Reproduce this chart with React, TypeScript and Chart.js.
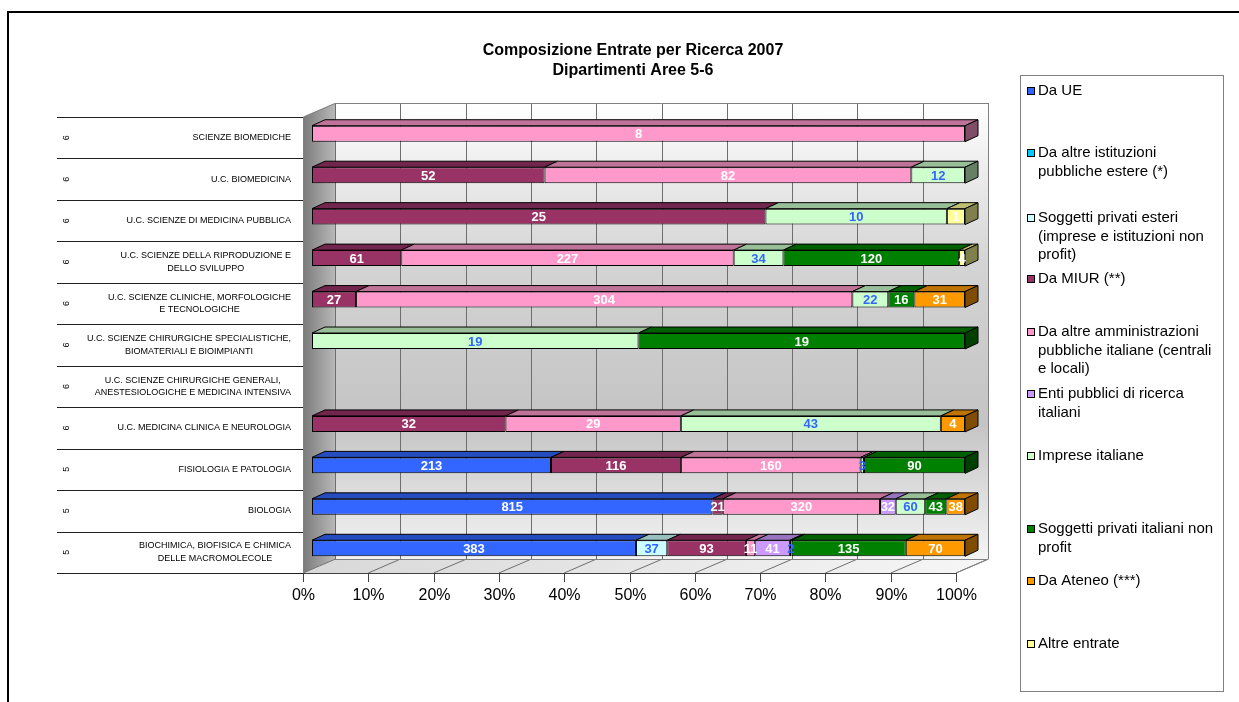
import React, { useEffect, useRef } from 'react';
import { Chart, registerables } from 'chart.js';

Chart.register(...registerables);

// ---------- DATA ----------
const titleLines = ['Composizione Entrate per Ricerca 2007', 'Dipartimenti Aree 5-6'];

const categories: string[][] = [
  ['SCIENZE BIOMEDICHE'],
  ['U.C. BIOMEDICINA'],
  ['U.C. SCIENZE DI MEDICINA PUBBLICA'],
  ['U.C. SCIENZE DELLA RIPRODUZIONE E', 'DELLO SVILUPPO'],
  ['U.C. SCIENZE CLINICHE, MORFOLOGICHE', 'E TECNOLOGICHE'],
  ['U.C. SCIENZE CHIRURGICHE SPECIALISTICHE,', 'BIOMATERIALI E BIOIMPIANTI'],
  ['U.C. SCIENZE CHIRURGICHE GENERALI,', 'ANESTESIOLOGICHE E MEDICINA INTENSIVA'],
  ['U.C. MEDICINA CLINICA E NEUROLOGIA'],
  ['FISIOLOGIA E PATOLOGIA'],
  ['BIOLOGIA'],
  ['BIOCHIMICA, BIOFISICA E CHIMICA', 'DELLE MACROMOLECOLE'],
];

const areas = ['6', '6', '6', '6', '6', '6', '6', '6', '5', '5', '5'];

const xTickLabels = ['0%', '10%', '20%', '30%', '40%', '50%', '60%', '70%', '80%', '90%', '100%'];

const seriesNames: string[][] = [
  ['Da UE'],
  ['Da altre istituzioni', 'pubbliche estere (*)'],
  ['Soggetti privati esteri', '(imprese e istituzioni non', 'profit)'],
  ['Da MIUR (**)'],
  ['Da altre amministrazioni', 'pubbliche italiane (centrali', 'e locali)'],
  ['Enti pubblici di ricerca', 'italiani'],
  ['Imprese italiane'],
  ['Soggetti privati italiani non', 'profit'],
  ['Da Ateneo (***)'],
  ['Altre entrate'],
];

const seriesColors = [
  '#3366FF',
  '#00CCFF',
  '#CCFFFF',
  '#993366',
  '#FF99CC',
  '#CC99FF',
  '#CCFFCC',
  '#008000',
  '#FF9900',
  '#FFFF99',
];

const labelColors = ['#FFFFFF', '#FFFFFF', '#3366FF', '#FFFFFF', '#FFFFFF', '#FFFFFF', '#3366FF', '#FFFFFF', '#FFFFFF', '#FFFFFF'];

const daUE = [0, 0, 0, 0, 0, 0, 0, 0, 213, 815, 383];
const daAltreIstEstere = [0, 0, 0, 0, 0, 0, 0, 0, 0, 0, 0];
const privatiEsteri = [0, 0, 0, 0, 0, 0, 0, 0, 0, 0, 37];
const daMIUR = [0, 52, 25, 61, 27, 0, 0, 32, 116, 21, 93];
const altreAmministrazioni = [8, 82, 0, 227, 304, 0, 0, 29, 160, 320, 11];
const entiPubblici = [0, 0, 0, 0, 0, 0, 0, 0, 0, 32, 41];
const impreseItaliane = [0, 12, 10, 34, 22, 19, 0, 43, 3, 60, 2];
const privatiNonProfit = [0, 0, 0, 120, 16, 19, 0, 0, 90, 43, 135];
const daAteneo = [0, 0, 0, 0, 31, 0, 0, 4, 0, 38, 70];
const altreEntrate = [0, 0, 1, 4, 0, 0, 0, 0, 0, 0, 0];

const seriesValues = [
  daUE,
  daAltreIstEstere,
  privatiEsteri,
  daMIUR,
  altreAmministrazioni,
  entiPubblici,
  impreseItaliane,
  privatiNonProfit,
  daAteneo,
  altreEntrate,
];

// ---------- HELPERS ----------
const FONT = '"Liberation Sans", Arial, sans-serif';

function shade(hex: string, f: number): string {
  const n = parseInt(hex.slice(1), 16);
  const r = Math.round(((n >> 16) & 255) * f);
  const g = Math.round(((n >> 8) & 255) * f);
  const b = Math.round((n & 255) * f);
  return `rgb(${r},${g},${b})`;
}

// depth geometry (relative to the bar front plane)
const FRONT_DX = -9;
const FRONT_DY = 4;
const BACK_DX = 23;
const BACK_DY = -10;
const BAR_DX = 13;
const BAR_DY = 6;

const decorPlugin = {
  id: 'decor3d',
  beforeDatasetsDraw(chart: any) {
    const ctx: CanvasRenderingContext2D = chart.ctx;
    const ca = chart.chartArea;
    const xs = chart.scales.x;
    const W = chart.width;
    const H = chart.height;

    ctx.save();
    ctx.fillStyle = '#FFFFFF';
    ctx.fillRect(0, 0, W, H);

    // outer frame (partially visible)
    ctx.strokeStyle = '#000';
    ctx.lineWidth = 2;
    ctx.beginPath();
    ctx.moveTo(8, H);
    ctx.lineTo(8, 12);
    ctx.lineTo(W, 12);
    ctx.stroke();

    // title
    ctx.fillStyle = '#000';
    ctx.font = `bold 16px ${FONT}`;
    ctx.textAlign = 'center';
    ctx.textBaseline = 'middle';
    ctx.fillText(titleLines[0], 633, 51);
    ctx.fillText(titleLines[1], 633, 71);

    const fTop = ca.top + FRONT_DY;
    const fBot = ca.bottom + FRONT_DY;
    const bTop = ca.top + BACK_DY;
    const bBot = ca.bottom + BACK_DY;
    const px = (v: number) => xs.getPixelForValue(v);
    const fx0 = px(0) + FRONT_DX;
    const fx1 = px(100) + FRONT_DX;
    const bx0 = px(0) + BACK_DX;
    const bx1 = px(100) + BACK_DX;

    // back wall
    const gBack = ctx.createLinearGradient(0, bTop, 0, bBot);
    gBack.addColorStop(0, '#FFFFFF');
    gBack.addColorStop(0.35, '#D4D4D4');
    gBack.addColorStop(0.7, '#C4C4C4');
    gBack.addColorStop(1, '#F4F4F4');
    ctx.fillStyle = gBack;
    ctx.fillRect(bx0, bTop, bx1 - bx0, bBot - bTop);

    // left wall
    const gLeft = ctx.createLinearGradient(fx0, 0, bx0, 0);
    gLeft.addColorStop(0, '#7A7A7A');
    gLeft.addColorStop(1, '#B8B8B8');
    ctx.fillStyle = gLeft;
    ctx.beginPath();
    ctx.moveTo(fx0, fTop);
    ctx.lineTo(bx0, bTop);
    ctx.lineTo(bx0, bBot);
    ctx.lineTo(fx0, fBot);
    ctx.closePath();
    ctx.fill();

    // floor
    const gFloor = ctx.createLinearGradient(fx0, 0, bx1, 0);
    gFloor.addColorStop(0, '#D8D8D8');
    gFloor.addColorStop(1, '#F6F6F6');
    ctx.fillStyle = gFloor;
    ctx.beginPath();
    ctx.moveTo(fx0, fBot);
    ctx.lineTo(fx1, fBot);
    ctx.lineTo(bx1, bBot);
    ctx.lineTo(bx0, bBot);
    ctx.closePath();
    ctx.fill();

    // gridlines
    ctx.strokeStyle = '#6E6E6E';
    ctx.lineWidth = 1;
    for (let k = 0; k <= 10; k++) {
      const v = k * 10;
      const xb = Math.round(px(v) + BACK_DX) + 0.5;
      const xf = px(v) + FRONT_DX;
      ctx.beginPath();
      ctx.moveTo(xb, bTop);
      ctx.lineTo(xb, bBot);
      ctx.stroke();
      ctx.beginPath();
      ctx.moveTo(xf, fBot);
      ctx.lineTo(xb, bBot);
      ctx.stroke();
    }

    // wall outlines
    ctx.strokeStyle = '#808080';
    ctx.beginPath();
    ctx.moveTo(fx0 + 0.5, fBot);
    ctx.lineTo(fx0 + 0.5, fTop);
    ctx.lineTo(bx0, bTop + 0.5);
    ctx.lineTo(bx1 + 0.5, bTop + 0.5);
    ctx.lineTo(bx1 + 0.5, bBot);
    ctx.lineTo(fx1, fBot);
    ctx.stroke();
    ctx.beginPath();
    ctx.moveTo(bx0, bBot + 0.5);
    ctx.lineTo(bx1, bBot + 0.5);
    ctx.stroke();

    // front axis
    ctx.strokeStyle = '#404040';
    ctx.beginPath();
    ctx.moveTo(fx0, Math.round(fBot) + 0.5);
    ctx.lineTo(fx1, Math.round(fBot) + 0.5);
    ctx.stroke();
    ctx.fillStyle = '#000';
    ctx.font = `16px ${FONT}`;
    ctx.textAlign = 'center';
    ctx.textBaseline = 'middle';
    for (let k = 0; k <= 10; k++) {
      const xf = Math.round(px(k * 10) + FRONT_DX) + 0.5;
      ctx.beginPath();
      ctx.moveTo(xf, fBot);
      ctx.lineTo(xf, fBot + 9);
      ctx.stroke();
      ctx.fillText(xTickLabels[k], xf, fBot + 23);
    }

    // category table
    const band = (fBot - fTop) / categories.length;
    ctx.strokeStyle = '#202020';
    for (let i = 0; i <= categories.length; i++) {
      const y = Math.round(fTop + i * band) + 0.5;
      ctx.beginPath();
      ctx.moveTo(57, y);
      ctx.lineTo(fx0, y);
      ctx.stroke();
    }
    ctx.font = `9px ${FONT}`;
    ctx.fillStyle = '#000';
    const lh = 12.7;
    categories.forEach((lines, i) => {
      const cy = fTop + (i + 0.5) * band;
      const widths = lines.map((l) => ctx.measureText(l).width);
      const bw = Math.max(...widths);
      const cx = 291 - bw / 2;
      lines.forEach((l, j) => {
        const y = cy + (j - (lines.length - 1) / 2) * lh;
        ctx.textAlign = 'center';
        ctx.fillText(l, cx, y);
      });
      ctx.save();
      ctx.translate(67, cy);
      ctx.rotate(-Math.PI / 2);
      ctx.textAlign = 'center';
      ctx.fillText(areas[i], 0, 0);
      ctx.restore();
    });

    // legend
    const lx0 = 1020;
    const ly0 = 75;
    const lx1 = 1223;
    const ly1 = 691;
    ctx.fillStyle = '#FFFFFF';
    ctx.fillRect(lx0, ly0, lx1 - lx0, ly1 - ly0);
    ctx.strokeStyle = '#808080';
    ctx.strokeRect(lx0 + 0.5, ly0 + 0.5, lx1 - lx0, ly1 - ly0);
    const itemY = [91, 153, 218, 279, 332, 394, 456, 529, 581, 644];
    const llh = 18.5;
    ctx.font = `15px ${FONT}`;
    ctx.textAlign = 'left';
    ctx.textBaseline = 'middle';
    seriesNames.forEach((lines, si) => {
      const y0 = itemY[si];
      ctx.fillStyle = seriesColors[si];
      ctx.fillRect(1027, Math.round(y0 - 4), 8, 8);
      ctx.strokeStyle = '#000';
      ctx.strokeRect(1027.5, Math.round(y0 - 4) + 0.5, 7, 7);
      ctx.fillStyle = '#000';
      lines.forEach((l, j) => {
        ctx.fillText(l, 1038, y0 + j * llh);
      });
    });

    ctx.restore();
  },
  afterDatasetsDraw(chart: any) {
    const ctx: CanvasRenderingContext2D = chart.ctx;
    const n = categories.length;
    ctx.save();
    ctx.lineWidth = 1;
    ctx.strokeStyle = '#000';
    ctx.lineJoin = 'round';
    for (let i = 0; i < n; i++) {
      const segs: any[] = [];
      seriesValues.forEach((vals, si) => {
        if (vals[i] > 0) {
          const el = chart.getDatasetMeta(si).data[i];
          const p = el.getProps(['x', 'y', 'base', 'height'], true);
          segs.push({ si, x0: Math.min(p.base, p.x), x1: Math.max(p.base, p.x), y0: p.y - p.height / 2, y1: p.y + p.height / 2, cy: p.y });
        }
      });
      if (!segs.length) continue;
      segs.forEach((s) => {
        ctx.fillStyle = shade(seriesColors[s.si], 0.75);
        ctx.beginPath();
        ctx.moveTo(s.x0, s.y0);
        ctx.lineTo(s.x0 + BAR_DX, s.y0 - BAR_DY);
        ctx.lineTo(s.x1 + BAR_DX, s.y0 - BAR_DY);
        ctx.lineTo(s.x1, s.y0);
        ctx.closePath();
        ctx.fill();
        ctx.stroke();
      });
      const last = segs[segs.length - 1];
      ctx.fillStyle = shade(seriesColors[last.si], 0.5);
      ctx.beginPath();
      ctx.moveTo(last.x1, last.y0);
      ctx.lineTo(last.x1 + BAR_DX, last.y0 - BAR_DY);
      ctx.lineTo(last.x1 + BAR_DX, last.y1 - BAR_DY);
      ctx.lineTo(last.x1, last.y1);
      ctx.closePath();
      ctx.fill();
      ctx.stroke();
      // labels
      ctx.font = `bold 13px ${FONT}`;
      ctx.textAlign = 'center';
      ctx.textBaseline = 'middle';
      segs.forEach((s) => {
        ctx.fillStyle = labelColors[s.si];
        ctx.fillText(String(seriesValues[s.si][i]), (s.x0 + s.x1) / 2, s.cy + 1);
      });
    }
    ctx.restore();
  },
};

export default function App() {
  const ref = useRef<HTMLCanvasElement>(null);
  useEffect(() => {
    const canvas = ref.current;
    if (!canvas) return;
    const totals = categories.map((_, i) => seriesValues.reduce((s, arr) => s + arr[i], 0));
    const datasets = seriesValues.map((vals, si) => ({
      label: seriesNames[si].join(' '),
      data: vals.map((v, i) => (v > 0 && totals[i] > 0 ? (v / totals[i]) * 100 : null)),
      backgroundColor: seriesColors[si],
      borderColor: '#000000',
      borderWidth: 1,
      borderSkipped: false as any,
      barPercentage: 0.385,
      categoryPercentage: 1,
    }));
    const chart = new Chart(canvas, {
      type: 'bar',
      data: { labels: categories.map((c) => c.join(' ')), datasets },
      options: {
        indexAxis: 'y',
        responsive: false,
        maintainAspectRatio: false,
        animation: false,
        devicePixelRatio: 1,
        layout: { padding: { left: 312, right: 274, top: 113, bottom: 133 } },
        scales: {
          x: { stacked: true, min: 0, max: 100, display: false },
          y: { stacked: true, display: false },
        },
        plugins: {
          legend: { display: false },
          title: { display: false },
          tooltip: { enabled: false },
        },
      },
      plugins: [decorPlugin],
    });
    return () => chart.destroy();
  }, []);
  return (
    <div style={{ position: 'absolute', left: 0, top: 0, width: 1239, height: 702, background: '#fff' }}>
      <canvas ref={ref} width={1239} height={702} style={{ display: 'block', width: 1239, height: 702 }} />
    </div>
  );
}
